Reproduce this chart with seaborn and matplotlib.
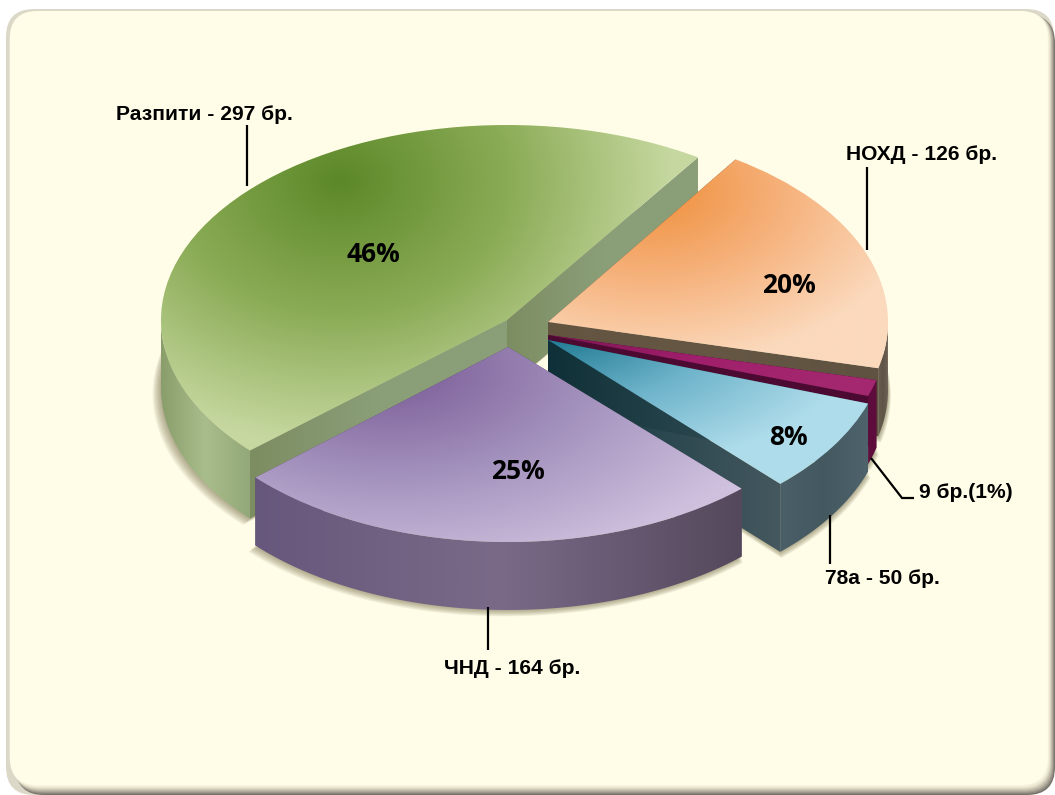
import numpy as np
import matplotlib
matplotlib.use('Agg')
import matplotlib.pyplot as plt
from matplotlib.patches import FancyBboxPatch, Polygon
from matplotlib.transforms import Affine2D
import seaborn as sns

sns.set_theme(style="white")
plt.rcParams['font.family'] = ['Liberation Sans', 'DejaVu Sans']

categories = ['Разпити', 'ЧНД', '78а', '9 бр.', 'НОХД']
counts = [297, 164, 50, 9, 126]
percents = ['46%', '25%', '8%', '', '20%']
count_labels = ['Разпити - 297 бр.', 'ЧНД - 164 бр.', '78а - 50 бр.', '9 бр.(1%)', 'НОХД - 126 бр.']

W, H = 1055, 795


def Y(y):
    return H - y


# per slice look: centre, radii, gradient focus and reach, colours
style = {
    'Разпити': dict(c=(507, 320), r=(346, 195), focus=(340, 180), reach=(335, 265), z=10,
                    top=['#5c8829', '#8aab55', '#c6d8a0'],
                    arc=['#8a9e6c', '#a9bd8c', '#93a878'], cut=['#7d8d62', '#8a9e78', '#8a9e78']),
    'НОХД': dict(c=(548, 322), r=(340, 195), focus=(650, 190), reach=(270, 175), z=20,
                 top=['#ef8f3b', '#f6b27c', '#fbd9bc'],
                 arc=['#6a5d4e', '#5e5447', '#6d6154'], cut=['#62543f', '#655744', '#5f5240']),
    '9 бр.': dict(c=(548, 335), r=(338, 190), focus=(548, 335), reach=(330, 100), z=30,
                  top=['#7d1553', '#a01f6c', '#a3286f'],
                  arc=['#5e0c3c', '#5e0c3c', '#5e0c3c'], cut=['#4c0a32', '#4c0a32', '#4c0a32']),
    '78а': dict(c=(548, 340), r=(338, 198), focus=(560, 335), reach=(300, 140), z=40,
                top=['#1f7a92', '#6fb4cb', '#aedcea'],
                arc=['#4a5f68', '#43585f', '#4e636c'], cut=['#0f3038', '#2b474f', '#45585f']),
    'ЧНД': dict(c=(508, 347), r=(340, 195), focus=(390, 370), reach=(400, 210), z=50,
                top=['#7a5b96', '#a391bd', '#cfc1de'],
                arc=['#66587c', '#7a6a88', '#54495c'], cut=['#54495c', '#54495c', '#54495c']),
}
depth = 68

# text positions in picture pixels
count_pos = [(204.5, 114), (512, 669), (882.5, 579), (965.5, 493), (921.5, 155)]
pct_pos = [(373, 254.5), (518, 471.5), (788, 437.5), None, (789, 285.5)]
leaders = [
    [(247, 125), (247, 186)],
    [(488, 607), (488, 650)],
    [(830, 515), (830, 564)],
    [(871, 458), (902, 498), (914, 498)],
    [(867, 167), (867, 250)],
]

fig = plt.figure(figsize=(W / 100, H / 100), dpi=100, facecolor='white')
ax = fig.add_axes([0, 0, 1, 1])

wedges, _ = ax.pie(counts, startangle=56.5, counterclock=True, radius=1)


def gradient(clip, colors, z, mode='x', extent=None, focus=None, reach=None):
    x0, x1, y0, y1 = extent
    xs = np.linspace(x0, x1, 300)
    ys = np.linspace(y0, y1, 300)
    gx, gy = np.meshgrid(xs, ys)
    if mode == 'x':
        val = (gx - x0) / max(x1 - x0, 1)
    else:
        val = np.hypot((gx - focus[0]) / reach[0], (gy - Y(focus[1])) / reach[1])
    cmap = sns.blend_palette(colors, as_cmap=True)
    im = ax.imshow(np.clip(val, 0, 1), extent=(x0, x1, y0, y1), origin='lower', cmap=cmap,
                   vmin=0, vmax=1, aspect='auto', zorder=z, interpolation='bilinear')
    im.set_clip_path(clip)


def panel(left, top, right, bottom, col, z):
    ax.add_patch(FancyBboxPatch((left + 25, Y(bottom) + 25), right - left - 50, bottom - top - 50,
                                boxstyle='round,pad=25,rounding_size=28', fc=col, ec='none', zorder=z))


# background panel: faint outline, then a rim that is darker right and below
panel(6, 9, 1054, 795, '#dcd8c8', 1)
rim = sns.blend_palette(['#77736a', '#b5b0a0', '#e8e3cc', '#fffde8'], n_colors=10)
for i, col in enumerate(rim):
    panel(16 - i * 0.7, 15 - i * 0.45, 1055 - i * 0.8, 795 - i * 1.1, col, 1.1 + i * 0.01)

# soft shadow under the slices
for cat, wedge in zip(categories, wedges):
    s = style[cat]
    cx, cy = s['c']
    rx, ry = s['r']
    t = np.radians(np.linspace(wedge.theta1, wedge.theta2, 80))
    for k in range(1, 8):
        px = cx + (rx + k * 0.8) * np.cos(t) - k * 0.4
        py = Y(cy) + ry * np.sin(t) - depth - k * 0.9
        pts = np.vstack([np.column_stack([px, py]), [cx, Y(cy) - depth]])
        ax.add_patch(Polygon(pts, closed=True, fc='#6e6640', ec='none', alpha=0.09, zorder=2))

# slices, back to front
for cat, wedge, lab in zip(categories, wedges, percents):
    s = style[cat]
    cx, cy = s['c']
    rx, ry = s['r']
    z = s['z']
    t = np.radians(np.linspace(wedge.theta1, wedge.theta2, 200))
    ex = cx + rx * np.cos(t)
    ey = Y(cy) + ry * np.sin(t)

    # flat cut faces
    for j in (0, -1):
        pts = [(cx, Y(cy)), (ex[j], ey[j]), (ex[j], ey[j] - depth), (cx, Y(cy) - depth)]
        face = Polygon(pts, closed=True, fc='none', ec='none', zorder=z)
        ax.add_patch(face)
        xa, xb = min(cx, ex[j]), max(cx, ex[j])
        gradient(face, s['cut'], z, extent=(xa - 1, xb + 1, Y(cy) - depth - 300, Y(cy) + 300))

    # outer wall, front half only so the back does not show through the cut
    front = np.sin(t) <= 0.02
    fx, fy = ex[front], ey[front]
    pts = np.vstack([np.column_stack([fx, fy]), np.column_stack([fx[::-1], fy[::-1] - depth])])
    wall = Polygon(pts, closed=True, fc='none', ec='none', zorder=z + 1)
    ax.add_patch(wall)
    gradient(wall, s['arc'], z + 1, extent=(fx.min(), fx.max(), fy.min() - depth, fy.max()))

    # top face: the wedge that ax.pie returned, squashed into place
    wedge.set_transform(Affine2D().scale(rx, ry).translate(cx, Y(cy)) + ax.transData)
    wedge.set_facecolor('none')
    wedge.set_edgecolor('none')
    wedge.set_zorder(z + 2)
    gradient(wedge, s['top'], z + 2, mode='r', extent=(ex.min() - rx, ex.max() + rx, Y(cy) - 2 * ry, Y(cy) + 2 * ry),
             focus=s['focus'], reach=s['reach'])

for lab, pos in zip(percents, pct_pos):
    if pos:
        ax.text(pos[0], Y(pos[1]), lab, ha='center', va='center', fontsize=19, fontweight='bold',
                family='Open Sans', color='black', zorder=100)

for lab, pos in zip(count_labels, count_pos):
    ax.text(pos[0], Y(pos[1]), lab, ha='center', va='center', fontsize=15.1, fontweight='bold',
            color='black', zorder=100)

for pts in leaders:
    ax.plot([p[0] for p in pts], [Y(p[1]) for p in pts], color='black', lw=1.6, zorder=99,
            solid_capstyle='butt', solid_joinstyle='miter')

ax.set_aspect('auto')
ax.set_xlim(0, W)
ax.set_ylim(0, H)
ax.axis('off')

plt.savefig('out.png', dpi=100)
plt.close()
